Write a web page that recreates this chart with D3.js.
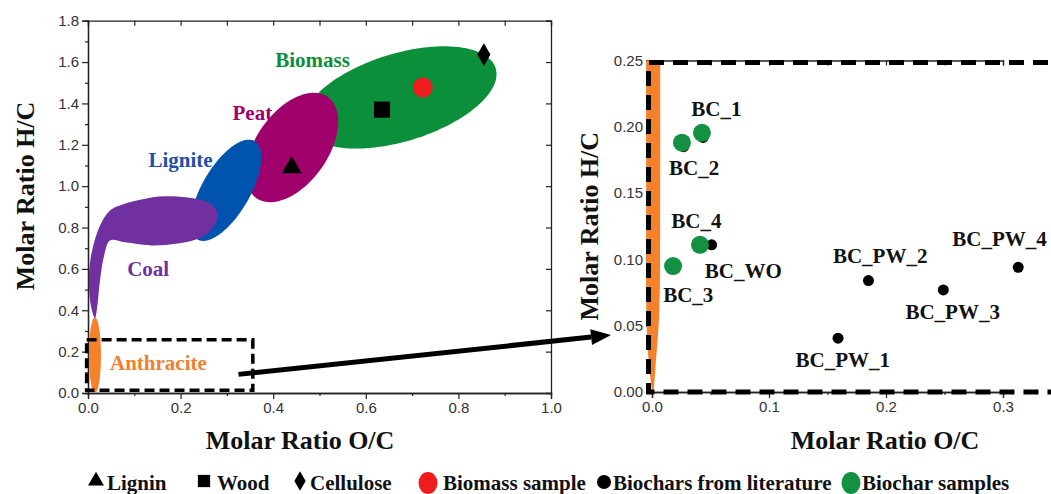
<!DOCTYPE html>
<html>
<head>
<meta charset="utf-8">
<script src="https://cdn.jsdelivr.net/npm/d3@7"></script>
<style>
  html, body { margin: 0; padding: 0; background: #fff; }
  svg { display: block; }
  .tick-label { font-family: "Liberation Sans", Arial, sans-serif; font-size: 15px; fill: #333; }
  .title { font-family: "Liberation Serif", "Times New Roman", serif; font-weight: bold; font-size: 26px; fill: #111; }
  .region-label { font-family: "Liberation Serif", "Times New Roman", serif; font-weight: bold; font-size: 21px; }
  .pt-label { font-family: "Liberation Serif", "Times New Roman", serif; font-weight: bold; font-size: 21px; fill: #111; }
  .legend { font-family: "Liberation Serif", "Times New Roman", serif; font-weight: bold; font-size: 21px; fill: #111; }
</style>
</head>
<body>
<svg id="chart" width="1051" height="494"></svg>
<script>
// ---- Van Krevelen regions (O/C, H/C): centre and two conjugate half-axes ----
const regionNames   = ["Biomass", "Peat", "Lignite", "Anthracite"];
const regionCenters = [[0.674, 1.429], [0.4406, 1.187], [0.298, 0.980], [0.015, 0.183]];
const regionAxisA   = [[0.2065, 0.141], [0.0768, 0.245], [0.0616, 0.238], [0.0, 0.183]];
const regionAxisB   = [[-0.0278, 0.203], [-0.0637, 0.0997], [-0.0449, 0.0579], [0.013, 0.0]];
const regionColors  = ["#0b8f3b", "#a0006c", "#0054b0", "#f4822c"];

// Coal region outline (O/C, H/C)
const coalOutline = [
  [0.069, 0.907], [0.166, 0.951], [0.263, 0.917], [0.281, 0.859], [0.253, 0.763],
  [0.156, 0.714], [0.080, 0.729], [0.048, 0.738], [0.035, 0.666], [0.026, 0.545],
  [0.019, 0.400], [0.015, 0.362], [0.006, 0.425], [0.002, 0.570], [0.009, 0.690],
  [0.026, 0.810], [0.048, 0.883]
];
const coalColor = "#7030a0";

// Region labels: text, anchor position (O/C, H/C)
const regionLabelText = ["Biomass", "Peat", "Lignite", "Coal", "Anthracite"];
const regionLabelPos  = [[0.485, 1.60], [0.355, 1.345], [0.2, 1.115], [0.13, 0.59], [0.152, 0.135]];
const regionLabelColor = ["#0b8f3b", "#a0006c", "#1f4fa8", "#7030a0", "#f08030"];

// Reference compounds (O/C, H/C)
const refNames  = ["Lignin", "Wood", "Cellulose", "Biomass sample"];
const refPoints = [[0.44, 1.09], [0.635, 1.37], [0.855, 1.636], [0.723, 1.477]];

// Zoomed panel: anthracite tip outline (O/C, H/C)
const anthraciteTip = [
  [-0.005, 0.27], [-0.005, 0.15], [-0.0048, 0.06], [-0.003, 0.025], [0.0008, 0.0],
  [0.0035, 0.025], [0.0062, 0.06], [0.007, 0.15], [0.007, 0.27]
];

// Biochars from literature (O/C, H/C)
const litNames  = ["", "", "BC_WO", "BC_PW_1", "BC_PW_2", "BC_PW_3", "BC_PW_4"];
const litPoints = [[0.0436, 0.192], [0.027, 0.185], [0.051, 0.111], [0.159, 0.0406],
                   [0.185, 0.084], [0.249, 0.077], [0.313, 0.094]];
// Biochar samples (O/C, H/C)
const sampleNames  = ["BC_1", "BC_2", "BC_4", "BC_3"];
const samplePoints = [[0.0427, 0.1955], [0.0256, 0.188], [0.041, 0.111], [0.018, 0.095]];

// Label positions (O/C, H/C) in the zoomed panel
const zoomLabelText = ["BC_1", "BC_2", "BC_4", "BC_WO", "BC_3", "BC_PW_1", "BC_PW_2", "BC_PW_3", "BC_PW_4"];
const zoomLabelPos  = [[0.055, 0.212], [0.036, 0.167], [0.038, 0.127], [0.078, 0.0895], [0.031, 0.0718],
                       [0.163, 0.0225], [0.195, 0.101], [0.257, 0.0585], [0.297, 0.1135]];

// Axis tick values
const leftXTicks  = [0, 0.2, 0.4, 0.6, 0.8, 1.0];
const leftYTicks  = [0, 0.2, 0.4, 0.6, 0.8, 1.0, 1.2, 1.4, 1.6, 1.8];
const rightXTicks = [0, 0.1, 0.2, 0.3];
const rightYTicks = [0, 0.05, 0.10, 0.15, 0.20, 0.25];

// Selection box on the overview (O/C, H/C)
const selBox = [[-0.003, 0.013], [0.356, 0.257]];
// Dashed frame of the zoomed panel (O/C, H/C)
const zoomFrame = [[-0.003, 0.0], [0.40, 0.2485]];

// Legend entries
const legendText  = ["Lignin", "Wood", "Cellulose", "Biomass sample", "Biochars from literature", "Biochar samples"];
const legendShape = ["triangle", "square", "diamond", "bigcircle-red", "circle", "bigcircle-green"];

// ------------------------------------------------------------------
const svg = d3.select("#chart");

const xL = d3.scaleLinear().domain([0, 1]).range([88, 551]);
const yL = d3.scaleLinear().domain([0, 1.8]).range([393, 20.7]);
const xR = d3.scaleLinear().domain([0, 0.3]).range([652, 1003]);
const yR = d3.scaleLinear().domain([0, 0.25]).range([392, 60.5]);

function ellipsePath(c, A, B, xs, ys) {
  const pts = d3.range(0, 361, 3).map(d => {
    const t = d * Math.PI / 180;
    return [xs(c[0] + Math.cos(t) * A[0] + Math.sin(t) * B[0]),
            ys(c[1] + Math.cos(t) * A[1] + Math.sin(t) * B[1])];
  });
  return d3.line()(pts) + "Z";
}

// ---------- Overview panel ----------
const left = svg.append("g");

left.append("g").attr("transform", `translate(0,${yL(0)})`)
  .call(d3.axisBottom(xL).tickValues(leftXTicks).tickSize(6).tickFormat(d3.format(".1f")));
left.append("g").attr("transform", `translate(0,${yL(0)})`)
  .call(d3.axisBottom(xL).tickValues(d3.range(0.1, 1, 0.2)).tickSize(3).tickFormat(""));
left.append("g").attr("transform", `translate(${xL(0)},0)`)
  .call(d3.axisLeft(yL).tickValues(leftYTicks).tickSize(6).tickFormat(d3.format(".1f")));
left.append("g").attr("transform", `translate(${xL(0)},0)`)
  .call(d3.axisLeft(yL).tickValues(d3.range(0.1, 1.8, 0.2)).tickSize(3).tickFormat(""));
left.append("g").attr("transform", `translate(0,${yL(1.8)})`)
  .call(d3.axisTop(xL).tickValues(d3.range(0, 1.01, 0.1)).tickSize(-5).tickFormat(""));
left.append("g").attr("transform", `translate(${xL(1)},0)`)
  .call(d3.axisRight(yL).tickValues(d3.range(0.2, 1.81, 0.2)).tickSize(-5).tickFormat(""));

left.selectAll(".domain").attr("stroke", "#222").attr("stroke-width", 1.3);
left.selectAll(".tick line").attr("stroke", "#222").attr("stroke-width", 1.2);
left.selectAll(".tick text").attr("class", "tick-label");

// regions: biomass, peat, lignite, anthracite from ellipse params; coal from outline
[0, 1, 2, 3].forEach(i => {
  left.append("path")
    .attr("d", ellipsePath(regionCenters[i], regionAxisA[i], regionAxisB[i], xL, yL))
    .attr("fill", regionColors[i]);
});
left.append("path")
  .attr("d", d3.line().x(d => xL(d[0])).y(d => yL(d[1])).curve(d3.curveCatmullRomClosed.alpha(0.5))(coalOutline))
  .attr("fill", coalColor);

// region labels
left.selectAll(".rl").data(regionLabelText).join("text")
  .attr("class", "region-label")
  .attr("x", (d, i) => xL(regionLabelPos[i][0]))
  .attr("y", (d, i) => yL(regionLabelPos[i][1]))
  .attr("text-anchor", "middle")
  .attr("dominant-baseline", "middle")
  .attr("fill", (d, i) => regionLabelColor[i])
  .text(d => d);

// reference markers
const sym = {
  triangle: d3.symbol().type(d3.symbolTriangle).size(170),
  square: d3.symbol().type(d3.symbolSquare).size(260),
  diamond: d3.symbol().type(d3.symbolDiamond).size(150)
};
left.append("path").attr("d", sym.triangle())
  .attr("transform", `translate(${xL(refPoints[0][0])},${yL(refPoints[0][1])})`).attr("fill", "#000");
left.append("path").attr("d", sym.square())
  .attr("transform", `translate(${xL(refPoints[1][0])},${yL(refPoints[1][1])})`).attr("fill", "#000");
left.append("path").attr("d", sym.diamond())
  .attr("transform", `translate(${xL(refPoints[2][0])},${yL(refPoints[2][1])})`).attr("fill", "#000");
left.append("circle").attr("cx", xL(refPoints[3][0])).attr("cy", yL(refPoints[3][1]))
  .attr("r", 10).attr("fill", "#ee1c1c");

// selection box
left.append("rect")
  .attr("x", xL(selBox[0][0])).attr("y", yL(selBox[1][1]))
  .attr("width", xL(selBox[1][0]) - xL(selBox[0][0]))
  .attr("height", yL(selBox[0][1]) - yL(selBox[1][1]))
  .attr("fill", "none").attr("stroke", "#000").attr("stroke-width", 3.5)
  .attr("stroke-dasharray", "10,5");

// axis titles
left.append("text").attr("class", "title")
  .attr("transform", `translate(34,196) rotate(-90)`)
  .attr("text-anchor", "middle").text("Molar Ratio H/C");
left.append("text").attr("class", "title")
  .attr("x", 300).attr("y", 449)
  .attr("text-anchor", "middle").text("Molar Ratio O/C");

// ---------- Zoomed panel ----------
const right = svg.append("g");
const clip = svg.append("defs").append("clipPath").attr("id", "zclip");
clip.append("rect").attr("x", xR(-0.006)).attr("y", yR(0.25)).attr("width", 1051).attr("height", yR(0) - yR(0.25));

right.append("g").attr("transform", `translate(0,${yR(0)})`)
  .call(d3.axisBottom(xR).tickValues(rightXTicks).tickSize(6).tickFormat(d3.format(".1f")));
right.append("g").attr("transform", `translate(0,${yR(0)})`)
  .call(d3.axisBottom(xR).tickValues([0.05, 0.15, 0.25, 0.35]).tickSize(3).tickFormat(""));
right.append("g").attr("transform", `translate(${xR(0)},0)`)
  .call(d3.axisLeft(yR).tickValues(rightYTicks).tickSize(6).tickFormat(d3.format(".2f")));
right.append("g").attr("transform", `translate(0,${yR(0.25)})`)
  .call(d3.axisTop(xR).tickValues(d3.range(0.05, 0.36, 0.05)).tickSize(-5).tickFormat(""));
right.selectAll(".domain").attr("stroke", "#222").attr("stroke-width", 1.3);
right.selectAll(".tick line").attr("stroke", "#222").attr("stroke-width", 1.2);
right.selectAll(".tick text").attr("class", "tick-label");

right.append("path").attr("clip-path", "url(#zclip)")
  .attr("d", d3.line().x(d => xR(d[0])).y(d => yR(d[1])).curve(d3.curveCatmullRom)(anthraciteTip) + "Z")
  .attr("fill", "#f4822c");

// dashed frame (left, top, bottom sides)
const fx0 = xR(zoomFrame[0][0]), fx1 = xR(zoomFrame[1][0]);
const fy0 = yR(zoomFrame[0][1]), fy1 = yR(zoomFrame[1][1]);
right.append("path")
  .attr("d", `M${fx1},${fy1}H${fx0}V${fy0}H${fx1}`)
  .attr("fill", "none").attr("stroke", "#000").attr("stroke-width", 5)
  .attr("stroke-dasharray", "15,9");

// literature points
right.selectAll(".lit").data(litPoints).join("circle")
  .attr("cx", d => xR(d[0])).attr("cy", d => yR(d[1])).attr("r", 5.5).attr("fill", "#000");
// biochar samples
right.selectAll(".smp").data(samplePoints).join("circle")
  .attr("cx", d => xR(d[0])).attr("cy", d => yR(d[1])).attr("r", 9).attr("fill", "#139040");

right.selectAll(".zl").data(zoomLabelText).join("text")
  .attr("class", "pt-label")
  .attr("x", (d, i) => xR(zoomLabelPos[i][0]))
  .attr("y", (d, i) => yR(zoomLabelPos[i][1]))
  .attr("text-anchor", "middle").attr("dominant-baseline", "middle")
  .text(d => d);

right.append("text").attr("class", "title")
  .attr("transform", `translate(598,${(yR(0) + yR(0.25)) / 2}) rotate(-90)`)
  .attr("text-anchor", "middle").text("Molar Ratio H/C");
right.append("text").attr("class", "title")
  .attr("x", 885).attr("y", 449)
  .attr("text-anchor", "middle").text("Molar Ratio O/C");

// ---------- Arrow linking the box to the zoomed panel ----------
const aStart = [xL(0.325), yL(0.09)];
const aEnd = [xR(-0.035), yR(0.043)];
const ang = Math.atan2(aEnd[1] - aStart[1], aEnd[0] - aStart[0]);
const headLen = 20, headW = 8;
const base = [aEnd[0] - headLen * Math.cos(ang), aEnd[1] - headLen * Math.sin(ang)];
svg.append("line")
  .attr("x1", aStart[0]).attr("y1", aStart[1]).attr("x2", base[0]).attr("y2", base[1])
  .attr("stroke", "#000").attr("stroke-width", 5);
svg.append("path")
  .attr("d", d3.line()([
    aEnd,
    [base[0] + headW * Math.sin(ang), base[1] - headW * Math.cos(ang)],
    [base[0] - headW * Math.sin(ang), base[1] + headW * Math.cos(ang)]
  ]) + "Z").attr("fill", "#000");

// ---------- Legend ----------
const legendMarkX = [96, 204, 300, 428, 604, 851];
const legendTextX = [107, 217, 310, 443, 613, 862];
const ly = 483;
const lg = svg.append("g");
legendShape.forEach((s, i) => {
  const x = legendMarkX[i];
  if (s === "triangle") lg.append("path").attr("d", d3.symbol().type(d3.symbolTriangle).size(110)()).attr("transform", `translate(${x},${ly - 2})`);
  if (s === "square") lg.append("path").attr("d", d3.symbol().type(d3.symbolSquare).size(150)()).attr("transform", `translate(${x},${ly - 2})`);
  if (s === "diamond") lg.append("path").attr("d", d3.symbol().type(d3.symbolDiamond).size(110)()).attr("transform", `translate(${x},${ly - 2})`);
  if (s === "bigcircle-red") lg.append("ellipse").attr("cx", x).attr("cy", ly).attr("rx", 9.5).attr("ry", 11).attr("fill", "#ee1c1c");
  if (s === "circle") lg.append("circle").attr("cx", x).attr("cy", ly - 1).attr("r", 7);
  if (s === "bigcircle-green") lg.append("ellipse").attr("cx", x).attr("cy", ly).attr("rx", 9.5).attr("ry", 11).attr("fill", "#139040");
});
lg.selectAll("text").data(legendText).join("text")
  .attr("class", "legend")
  .attr("x", (d, i) => legendTextX[i]).attr("y", ly + 7)
  .text(d => d);
</script>
</body>
</html>
